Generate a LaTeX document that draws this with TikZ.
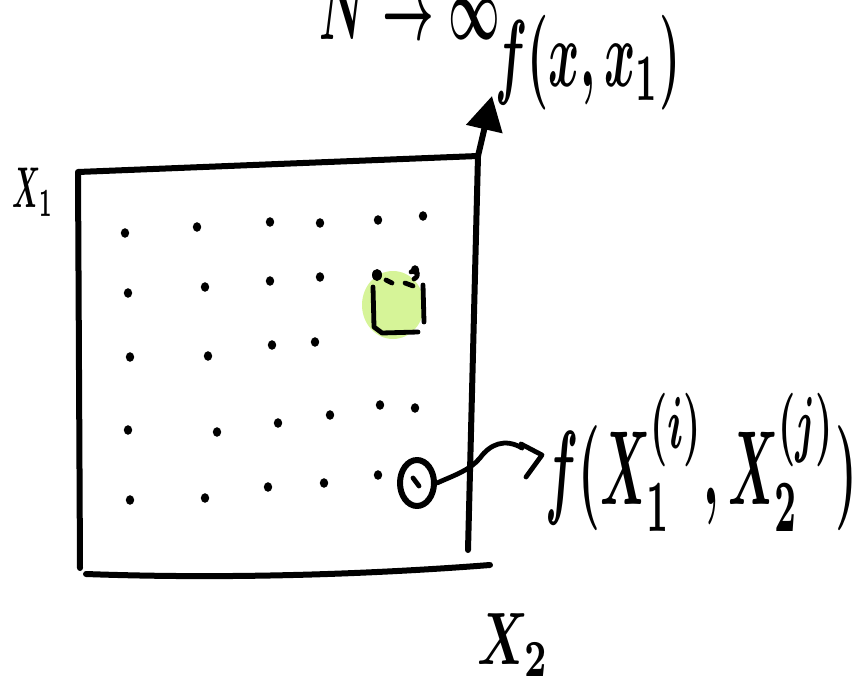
\documentclass[tikz,border=0pt]{standalone}
\usepackage{graphicx}
\usetikzlibrary{arrows.meta,shapes.geometric}
\definecolor{hl}{RGB}{214,244,152}
\begin{document}
\begin{tikzpicture}[x=1pt,y=-1pt,
  pen/.style={line width=6pt, line cap=round, line join=round},
  thinpen/.style={line width=4.8pt, line cap=round, line join=round},
  lbl/.style={inner sep=0pt, anchor=center}]
\useasboundingbox (0,0) rectangle (861,687);
\clip (0,0) rectangle (861,687);
% frame corners
\coordinate (tl) at (78,172);
\coordinate (tr) at (478,156);
\coordinate (bl) at (80,568);
\coordinate (br) at (468,550);
\coordinate (up) at (492,96);
\coordinate (b1) at (86,574);
\coordinate (b2) at (490,565);
% highlight
\fill[hl] (393,305) ellipse (31pt and 34pt);
% frame
\draw[pen] (bl) -- (tl) -- (tr);
\draw[pen] (br) -- (tr);
\draw[pen, -{Triangle[length=34pt,width=36pt]}] (tr) -- (up);
\draw[pen] (b1) .. controls (250,580) and (400,572) .. (b2);
% dots
\foreach \p in {(125,233),(197,227),(270,222),(320,223),(378,220),(423,216),
                (128,293),(205,287),(270,281),(320,277),(415,270),
                (130,357),(208,356),(272,345),(315,342),
                (128,430),(217,432),(278,423),(330,415),(380,405),(415,408),
                (130,500),(205,498),(268,487),(324,483),(378,475)}
  \fill \p ellipse (4.2pt and 4.8pt);
% highlighted cell
\draw[thinpen] (373,287) -- (374,327) -- (382,333) -- (418,332);
\draw[thinpen] (423,285) -- (424,322);
\fill (377,275) ellipse (5pt and 6pt);
\draw[thinpen] (386,280) -- (392,283);
\draw[thinpen] (405,283) -- (413,286);
\draw[thinpen] (411,272) .. controls (418,268) and (420,276) .. (414,279);
% circled point
\node[draw, pen, ellipse, minimum width=34pt, minimum height=46pt, inner sep=0pt] (c) at (417,483) {};
\draw[thinpen] (413,478) -- (419,486);
% squiggle to formula
\coordinate (tip) at (542,455);
\draw[thinpen] (c.east) .. controls (455,475) and (470,470) .. (480,458)
   .. controls (490,444) and (505,438) .. (522,448);
\draw[thinpen] (521,444) -- (tip) -- (526,477);
% labels
\node[lbl] (f1) at (701,462) {\resizebox*{312pt}{138pt}{\boldmath$f(X_1^{(i)},X_2^{(j)})$}};
\node[lbl] (ft) at (588,63) {\resizebox*{185pt}{95pt}{\boldmath$f(x,x_1)$}};
\node[lbl] (nt) at (410,8) {\resizebox*{180pt}{62pt}{\boldmath$N\to\infty$}};
\node[lbl] (x1) at (33,192) {\resizebox*{40pt}{48pt}{\boldmath$X_1$}};
\node[lbl] (x2) at (513,645) {\resizebox*{72pt}{62pt}{\boldmath$X_2$}};
\end{tikzpicture}
\end{document}
